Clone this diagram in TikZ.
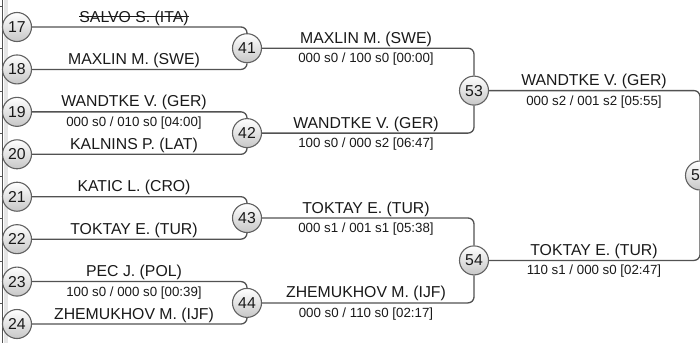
\documentclass[tikz,border=0pt]{standalone}
\usepackage{fontspec}
\setmainfont{Liberation Sans}
\newcommand{\namesize}{\fontsize{15.8}{16}\selectfont}
\newcommand{\scoresize}{\fontsize{13.3}{14}\selectfont}
\tikzstyle{seed}=[circle, draw=black!62, line width=1.1pt, minimum size=29pt, inner sep=0,
                  top color=white, bottom color=black!22, text=black!90, font=\namesize]
\tikzstyle{bracket}=[draw=black!68, line width=1.3pt, rounded corners=6pt]
\tikzstyle{player}=[anchor=base, inner sep=0, text=black!90, font=\namesize]
\tikzstyle{score}=[anchor=base, inner sep=0, text=black!90, font=\scoresize]
\tikzstyle{strike}=[draw=black!90, line width=0.8pt]
\begin{document}
\begin{tikzpicture}[x=1pt, y=-1pt]
    \useasboundingbox (0,0) rectangle (700,343);
    % Edge of the previous column.
    \fill[black!10] (4,0) rectangle (8,343);
    \draw[black!68, line width=1pt] (2.5,0) -- (2.5,343);
    \foreach \t in {6,48,91,133,176,218,261,303}
        \draw[black!68, line width=0.8pt] (0,\t) -- (2.5,\t);

    % Round one.
    \foreach \n [count=\i from 0] in {17,...,24}
        \node[seed] (C\n) at (17, 27+42.43*\i) {\n};
    % Round two.
    \node[seed] (C41) at (247, 48.2)  {41};
    \node[seed] (C42) at (247, 133.1) {42};
    \node[seed] (C43) at (247, 218)   {43};
    \node[seed] (C44) at (247, 302.9) {44};
    % Round three and final.
    \node[seed] (C53) at (474, 90.6)  {53};
    \node[seed] (C54) at (474, 260.4) {54};
    \node[seed] (C55) at (700, 175.5) {55};

    \draw[bracket] (C17.east) -| (C41.north);
    \draw[bracket] (C18.east) -| (C41.south);
    \draw[bracket] (C19.east) -| (C42.north);
    \draw[bracket] (C20.east) -| (C42.south);
    \draw[bracket] (C21.east) -| (C43.north);
    \draw[bracket] (C22.east) -| (C43.south);
    \draw[bracket] (C23.east) -| (C44.north);
    \draw[bracket] (C24.east) -| (C44.south);
    \draw[bracket] (C41.east) -| (C53.north);
    \draw[bracket] (C42.east) -| (C53.south);
    \draw[bracket] (C43.east) -| (C54.north);
    \draw[bracket] (C44.east) -| (C54.south);
    \draw[bracket] (C53.east) -| (C55.north);
    \draw[bracket] (C54.east) -| (C55.south);

    % Names above the lines, scores below.
    \node[player] (N17) at (134, 27-5)     {SALVO S. (ITA)};
    \draw[strike] ([yshift=5.6pt]N17.base west) -- ([yshift=5.6pt]N17.base east);
    \node[player] (N18) at (134, 69.4-5)   {MAXLIN M. (SWE)};
    \node[player] (N19) at (134, 111.9-5)  {WANDTKE V. (GER)};
    \node[score]  (S19) at (134, 111.9+14.5) {000 s0 / 010 s0 [04:00]};
    \node[player] (N20) at (134, 154.3-5)  {KALNINS P. (LAT)};
    \node[player] (N21) at (134, 196.7-5)  {KATIC L. (CRO)};
    \node[player] (N22) at (134, 239.2-5)  {TOKTAY E. (TUR)};
    \node[player] (N23) at (134, 281.6-5)  {PEC J. (POL)};
    \node[score]  (S23) at (134, 281.6+14.5) {100 s0 / 000 s0 [00:39]};
    \node[player] (N24) at (134, 324-5)    {ZHEMUKHOV M. (IJF)};

    \node[player] (N41) at (366, 48.2-5)   {MAXLIN M. (SWE)};
    \node[score]  (S41) at (366, 48.2+14.5) {000 s0 / 100 s0 [00:00]};
    \node[player] (N42) at (366, 133.1-5)  {WANDTKE V. (GER)};
    \node[score]  (S42) at (366, 133.1+14.5) {100 s0 / 000 s2 [06:47]};
    \node[player] (N43) at (366, 218-5)    {TOKTAY E. (TUR)};
    \node[score]  (S43) at (366, 218+14.5) {000 s1 / 001 s1 [05:38]};
    \node[player] (N44) at (366, 302.9-5)  {ZHEMUKHOV M. (IJF)};
    \node[score]  (S44) at (366, 302.9+14.5) {000 s0 / 110 s0 [02:17]};

    \node[player] (N53) at (594, 90.6-5)   {WANDTKE V. (GER)};
    \node[score]  (S53) at (594, 90.6+14.5) {000 s2 / 001 s2 [05:55]};
    \node[player] (N54) at (594, 260.4-5)  {TOKTAY E. (TUR)};
    \node[score]  (S54) at (594, 260.4+14.5) {110 s1 / 000 s0 [02:47]};
\end{tikzpicture}
\end{document}
